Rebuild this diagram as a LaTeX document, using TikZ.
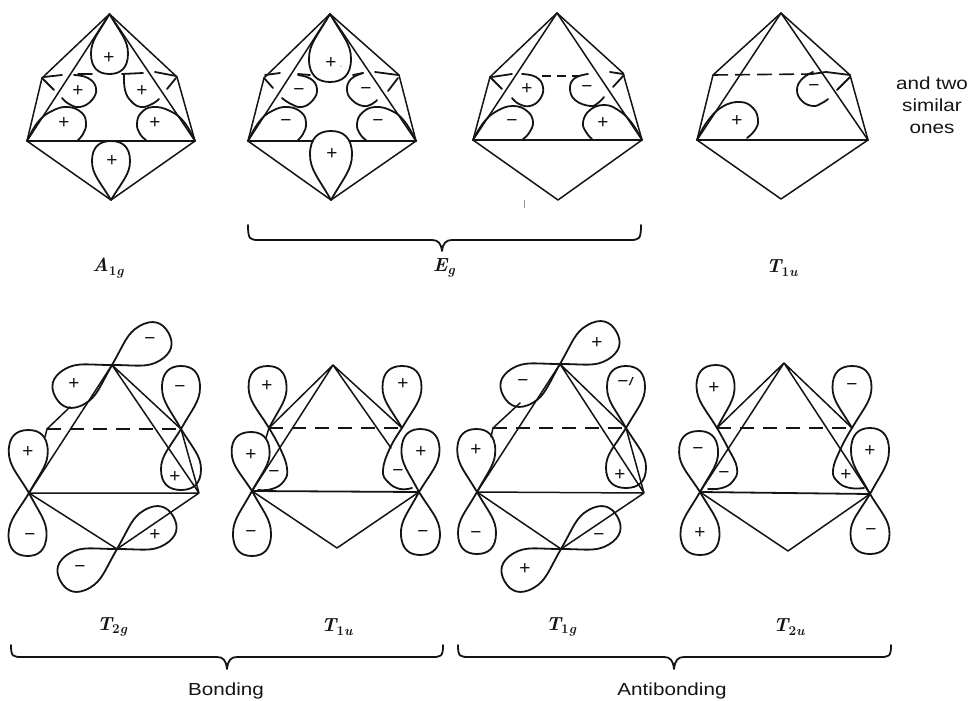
\documentclass[tikz,border=0pt]{standalone}
\usepackage[no-math]{fontspec}
\setsansfont{Liberation Sans}
\newfontfamily\widesans[FakeStretch=1.18]{Liberation Sans}
\newcounter{sg}
\tikzset{
  x=1pt,y=-1pt,
  ink/.style={color=black!92},
  edge/.style={ink,line width=1.5pt,line cap=round,line join=round},
  lobe/.style={ink,line width=1.8pt,line cap=round,line join=round},
  dsh/.style={ink,line width=1.6pt,dash pattern=on 14pt off 9pt},
  sgn/.style={ink,inner sep=0pt,font=\sffamily\fontsize{19}{19}\selectfont},
  lab/.style={ink,inner sep=0pt,font=\fontsize{19}{20}\selectfont},
  sans/.style={ink,inner sep=0pt,font=\widesans\fontsize{17.5}{22}\selectfont}
}
\newcommand\lobe[4]{\draw[lobe,shift={(#1)},rotate=#2] (0,0) .. controls (.33*#3,.62*#4) and (.44*#3,#4) .. (.66*#3,#4) .. controls (.90*#3,#4) and (#3,.60*#4) .. (#3,0) .. controls (#3,-.60*#4) and (.90*#3,-#4) .. (.66*#3,-#4) .. controls (.44*#3,-#4) and (.33*#3,-.62*#4) .. (0,0) -- cycle;}
\newcommand\arc[1]{\draw[lobe] plot[smooth,tension=.75] coordinates {#1};}
\newcommand\Pl[1]{\stepcounter{sg}\node[sgn] (s\arabic{sg}) at (#1) {+};}
\newcommand\Mi[1]{\stepcounter{sg}\node[sgn] (s\arabic{sg}) at (#1) {−};}
\newcommand\sym[2]{{\bfseries\itshape #1}\raisebox{-3.5pt}{\fontsize{13.5}{14}\selectfont\bfseries\itshape #2}}
\newcommand\octa[7]{%
  \coordinate (#1T) at (#2);\coordinate (#1W) at (#3);\coordinate (#1E) at (#4);
  \coordinate (#1B) at (#5);\coordinate (#1L) at (#6);\coordinate (#1R) at (#7);}
\newcommand\brc[6]{\draw[lobe] (#1,#4) .. controls (#1,#5) and (#1+2,#5) .. (#1+12,#5) -- (#3-10,#5) .. controls (#3-4,#5) and (#3-1,#5+3) .. (#3,#6) .. controls (#3+1,#5+3) and (#3+4,#5) .. (#3+10,#5) -- (#2-12,#5) .. controls (#2-2,#5) and (#2,#5) .. (#2,#4);}
\begin{document}
\begin{tikzpicture}
\useasboundingbox (0,0) rectangle (969,701);
% ---------- top row
\octa{a}{109.5,14}{27,141}{195,141}{111,200}{42,78}{177,77}
\octa{b}{330,14}{248,141}{416,141}{331,200}{264,78}{399,75}
\octa{c}{557,13}{473,140}{642,140}{558,200}{490,77}{623,73}
\octa{d}{781,13}{697,140}{868,140}{781,199}{713,75}{850,75}
% A1g
\draw[edge] (aL)--(aT)--(aR)--(aE)--(aB)--(aW)--(aL);
\draw[edge] (aW)--(aT)--(aE);
\draw[lobe,line width=2pt] (aW)--(aE);
\lobe{aT}{270}{60}{18.5}
\lobe{aB}{90}{59}{19}
\arc{(27,141) (38,122) (52,111) (68,107) (82,113) (86,124) (83,134) (78,140)}
\arc{(195,141) (184,122) (170,111) (153,107) (141,113) (137,124) (140,134) (146,140)}
\arc{(74,75) (88,78) (96,88) (92,100) (80,107) (69,104) (62,98)}
\arc{(124,75) (125,90) (131,101) (141,107) (152,104) (159,99)}
\draw[lobe] (42,78)--(54,90);
\draw[lobe] (167,89)--(176,78);
\draw[lobe] (44,77)--(62,75);
\draw[lobe] (78,74)--(92,74);
\draw[lobe] (122,74)--(143,73);
\draw[lobe] (155,72)--(176,76);
\Pl{109,58}\Pl{78,91}\Pl{142,91}\Pl{64,123}\Pl{155,123}\Pl{112,161}
% Eg first
\draw[edge] (bL)--(bT)--(bR)--(bE)--(bB)--(bW)--(bL);
\draw[edge] (bW)--(bT)--(bE);
\coordinate (bg1) at (313,141);\coordinate (bg2) at (350,141);
\draw[lobe,line width=2pt] (bW)--(bg1) (bg2)--(bE);
\lobe{bT}{270}{68}{21}
\lobe{bB}{90}{69}{21}
\arc{(248,141) (259,122) (272,111) (288,107) (302,113) (306,124) (303,134) (298,140)}
\arc{(416,141) (405,122) (392,111) (375,107) (362,113) (357,124) (360,134) (366,140)}
\arc{(298,75) (311,79) (317,89) (313,100) (302,107) (291,104) (282,98)}
\arc{(363,73) (351,79) (347,90) (352,100) (363,106) (372,104) (377,100)}
\draw[lobe] (264,78)--(273,88);
\draw[lobe] (388,91)--(398,78);
\draw[lobe] (265,75)--(280,73);
\draw[lobe] (298,74)--(310,75);
\draw[lobe] (353,75)--(363,73);
\draw[lobe] (375,72)--(398,75);
\Pl{331,63}\Mi{299,92}\Mi{366,91}\Mi{286,123}\Mi{378,123}\Pl{332,154}
\fill[black!60] (341,66) circle (.6);
% Eg second
\draw[edge] (cL)--(cT)--(cR)--(cE)--(cB)--(cW)--(cL);
\draw[edge] (cW)--(cT)--(cE);
\draw[lobe] (cW)--(cE);
\arc{(473,140) (484,122) (497,111) (513,106) (527,111) (533,122) (529,133) (523,139)}
\arc{(642,140) (631,122) (618,110) (604,105) (590,110) (583,122) (586,132) (592,139)}
\arc{(522,74) (536,77) (543,87) (540,99) (530,106) (519,104) (512,98)}
\arc{(588,74) (575,78) (570,88) (575,100) (590,106) (598,103) (604,97)}
\draw[lobe] (490,77)--(502,89);
\draw[lobe] (613,87)--(624,75);
\draw[lobe] (492,77)--(512,74);
\draw[dsh,dash pattern=on 9pt off 6pt] (542,76)--(580,76);
\draw[lobe] (610,72)--(623,74);
\Pl{527,89}\Mi{587,89}\Mi{512,123}\Pl{603,123}
% T1u top
\draw[edge] (dL)--(dT)--(dR)--(dE)--(dB)--(dW)--(dL);
\draw[edge] (dW)--(dT)--(dE);
\draw[lobe] (dW)--(dE);
\arc{(697,140) (707,122) (722,107) (740,102) (753,108) (758,120) (755,130) (747,138)}
\arc{(813,72) (802,79) (797,90) (802,101) (813,106) (822,103) (828,99)}
\draw[lobe] (837,90)--(850,77);
\coordinate (dd) at (812,74);
\draw[dsh,dash pattern=on 15pt off 7pt] (dL)--(dd);
\draw[lobe] (dd)--(826,72)--(dR);
\Pl{737,121}\Mi{814,88}
\node[sans,align=center] (more) at (932,105) {and\hspace{.3em}two\\similar\\ones};
% ---------- bottom row
\octa{e}{112,365}{29,493}{199,493}{117,549}{47,429}{181,429}
\octa{f}{333,365}{252,491}{419,492}{337,548}{269,428}{402,428}
\octa{g}{560,364}{477,492}{644,493}{561,549}{493,428}{626,428}
\octa{h}{784,363}{700,492}{870,494}{788,551}{717,428}{852,428}
% T2g
\draw[edge] (eW)--(eT)--(eE)--(eW)--(eB)--(eE)--(eR)--(eT);
\coordinate (e1) at (70,407);\coordinate (e2) at (45,437);
\draw[edge] (e1)--(eL)--(e2);
\draw[dsh] (eL)--(eR);
\lobe{eT}{30}{65}{20}
\lobe{eT}{210}{65}{20}
\lobe{eW}{91}{63}{19.5}
\lobe{eW}{268}{63}{19}
\lobe{eR}{90}{63}{19}
\lobe{eR}{270}{61}{20}
\lobe{eB}{30}{65}{20}
\lobe{eB}{210}{65}{20}
\Mi{150,341}\Pl{74,384}\Pl{28,452}\Mi{30,537}\Mi{180,389}\Pl{175,477}\Pl{155,535}\Mi{80,569}
% T1u bottom
\coordinate (f1) at (391,448);\coordinate (f2) at (266,438);
\draw[edge] (fW)--(fT)--(fL) (fT)--(fR) (fT)--(f1) (fL)--(f2);
\draw[edge] (fW)--(fB)--(fE);
\draw[lobe] (fW)--(fE);
\draw[dsh] (fL)--(fR);
\lobe{fL}{92}{62}{19}
\lobe{fR}{90}{62}{19.5}
\lobe{fW}{92}{59}{19}
\lobe{fW}{270}{65}{19}
\lobe{fE}{88}{63}{19}
\lobe{fE}{272}{63}{19.5}
\Pl{267,386}\Pl{403,384}\Pl{251,455}\Mi{251,534}\Pl{421,452}\Mi{423,534}
\arc{(269,428) (280,448) (287,468) (284,481) (272,489) (258,490)}
\arc{(402,428) (390,448) (383,470) (388,482) (400,489) (412,488)}
\Mi{274,474}\Mi{398,473}
% T1g
\draw[edge] (gW)--(gT)--(gE)--(gW)--(gB)--(gE)--(gR)--(gT);
\coordinate (g1) at (520,403);\coordinate (g2) at (491,437);
\draw[edge] (g1)--(gL)--(g2);
\draw[dsh] (gL)--(gR);
\lobe{gT}{30}{65}{20}
\lobe{gT}{210}{65}{20}
\lobe{gW}{91}{63}{19}
\lobe{gW}{270}{62}{19}
\lobe{gR}{90}{62}{19}
\lobe{gR}{270}{60}{20}
\lobe{gB}{30}{65}{20}
\lobe{gB}{210}{65}{20}
\Pl{597,343}\Mi{523,383}\Pl{476,450}\Mi{476,535}\Mi{623,384}\Pl{620,475}\Mi{599,537}\Pl{525,569}
\draw[ink,line width=1.2pt] (629,385)--(630,384)--(633,377);
% T2u
\draw[edge] (hW)--(hT)--(hE) (hT)--(hL) (hT)--(hR);
\draw[edge] (hW)--(hB)--(hE);
\draw[lobe] (hW)--(hE);
\draw[dsh] (hL)--(hR);
\lobe{hL}{92}{63}{19}
\lobe{hR}{90}{62}{19.5}
\lobe{hW}{92}{61}{19.5}
\lobe{hW}{270}{63}{19.5}
\lobe{hE}{90}{66}{19}
\lobe{hE}{270}{60}{19.5}
\arc{(717,428) (728,448) (737,468) (733,481) (722,488) (708,489)}
\arc{(852,428) (841,448) (833,470) (838,482) (850,488) (864,488)}
\Pl{714,388}\Mi{852,387}\Mi{698,451}\Pl{700,533}\Pl{870,451}\Mi{871,532}\Mi{724,475}\Pl{846,475}
% ---------- braces and labels
\brc{248}{641}{442}{225}{240}{251}
\brc{11}{443}{227}{645}{657}{669}
\brc{458}{891}{674}{645}{657}{669}
\node[lab] (l1) at (108,268) {\sym{A}{{\upshape 1}g}};
\node[lab] (l2) at (444,268) {\sym{E}{g}};
\node[lab] (l3) at (782,268) {\sym{T}{{\upshape 1}u}};
\node[lab] (l4) at (112,627) {\sym{T}{{\upshape 2}g}};
\node[lab] (l5) at (337,627) {\sym{T}{{\upshape 1}u}};
\node[lab] (l6) at (561,627) {\sym{T}{{\upshape 1}g}};
\node[lab] (l7) at (789,627) {\sym{T}{{\upshape 2}u}};
\node[sans] (l8) at (226,691) {Bonding};
\node[sans] (l9) at (672,691) {Antibonding};
\fill[black!40] (524,200) rectangle (524.7,208);
\end{tikzpicture}
\end{document}
